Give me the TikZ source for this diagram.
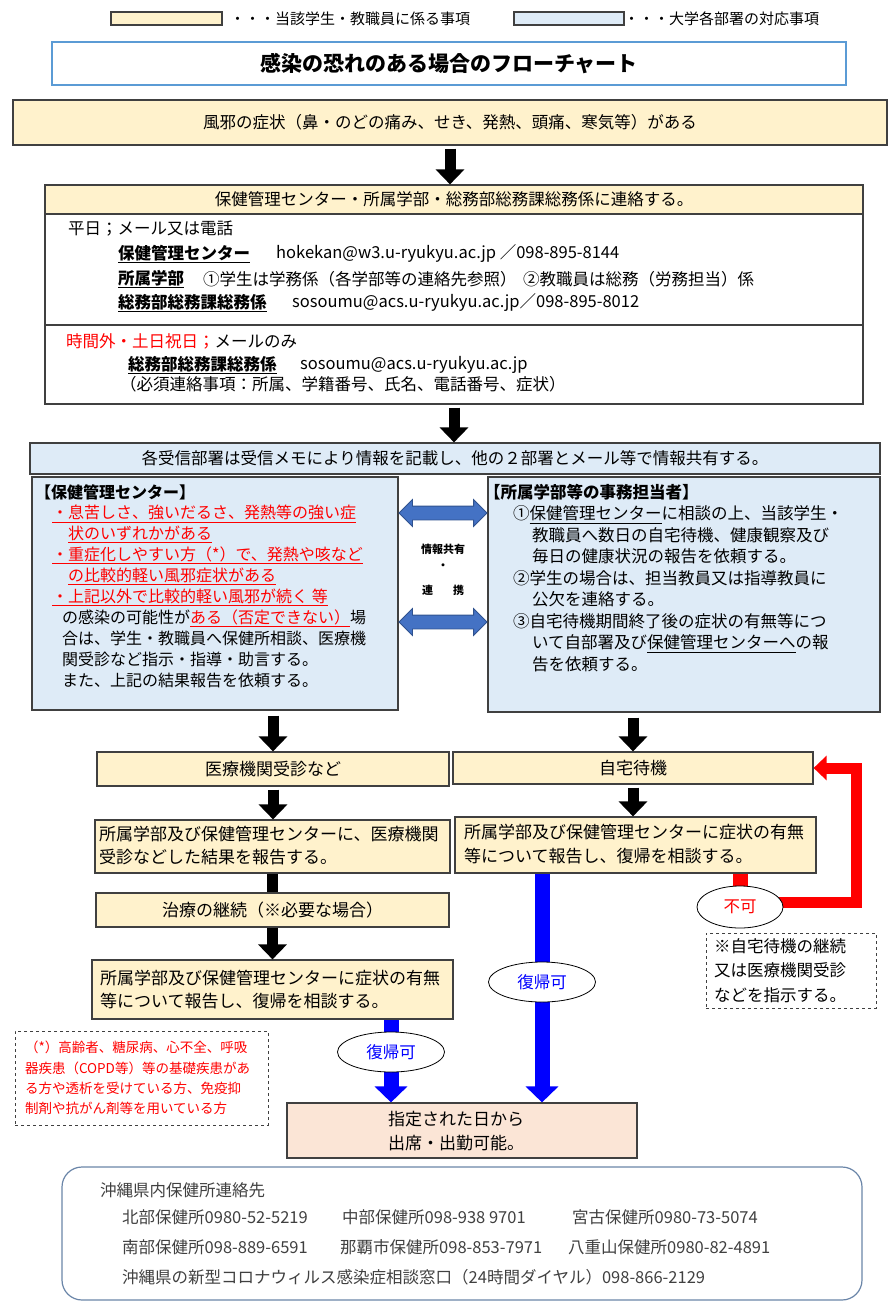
\documentclass[tikz,border=0pt]{standalone}
\usepackage{fontspec}
\setmainfont{Noto Sans CJK JP}
\usetikzlibrary{arrows.meta,shapes.geometric,shapes.arrows}
\pgfdeclarelayer{bg}
\pgfsetlayers{bg,main}

\definecolor{yfill}{HTML}{FFF2CC}
\definecolor{bfill}{HTML}{DEEBF7}
\definecolor{pfill}{HTML}{FBE5D6}
\definecolor{edge}{HTML}{404040}
\definecolor{titleblue}{HTML}{5B9BD5}
\definecolor{sharefill}{HTML}{4472C4}
\definecolor{shareedge}{HTML}{2F528F}
\definecolor{roundedge}{HTML}{6A85A8}
\definecolor{graytext}{HTML}{404040}

\newcommand{\fsz}[1]{\fontsize{#1}{#1}\selectfont}
\newcommand{\ulb}[1]{\underline{\textbf{#1}}}
\newcommand{\redul}[1]{\textcolor{red}{\underline{#1}}}

\begin{document}
\begin{tikzpicture}[x=1pt,y=-1pt,font=\fsz{16.5},
  ybox/.style={draw=edge, fill=yfill, line width=1.2pt, inner sep=0pt},
  bbox/.style={draw=edge, fill=bfill, line width=1.2pt, inner sep=0pt},
  txt/.style={inner sep=0pt, anchor=west},
  blkarrow/.style={line width=11pt, -{Triangle[width=28pt,length=15pt]}},
  bluarrow/.style={blue, line width=15pt, -{Triangle[width=32pt,length=16pt]}},
  redline/.style={red, line width=11pt},
  oval/.style={ellipse, draw=black, fill=white, line width=0.8pt, minimum width=107pt, minimum height=40pt, inner sep=0pt},
  dashnote/.style={draw=edge, dashed, line width=0.9pt, align=left},
  sharearrow/.style={double arrow, draw=shareedge, fill=sharefill, line width=0.8pt, minimum height=88pt, inner xsep=0pt, inner ysep=6.5pt, double arrow head extend=6.5pt, font=\fsz{1}}]
\useasboundingbox (0,0) rectangle (895,1306);

% legend
\node[ybox, minimum width=111pt, minimum height=13pt] (legendy) at (166.5,18.5) {};
\node[txt, font=\fsz{15}] (legendytext) at (230,19) {・・・当該学生・教職員に係る事項};
\node[bbox, minimum width=110pt, minimum height=13pt] (legendb) at (569,18.5) {};
\node[txt, font=\fsz{15}] (legendbtext) at (624,19) {・・・大学各部署の対応事項};

% title
\node[draw=titleblue, line width=1.2pt, minimum width=794pt, minimum height=43pt, font=\fsz{21}\bfseries] (title) at (449,63.5) {感染の恐れのある場合のフローチャート};

% symptoms
\node[ybox, minimum width=874pt, minimum height=45pt] (cold) at (450,122.5) {風邪の症状（鼻・のどの痛み、せき、発熱、頭痛、寒気等）がある};

% contact box
\node[draw=edge, fill=white, line width=1.2pt, minimum width=818pt, minimum height=219pt] (contact) at (454,294.5) {};
\node[ybox, minimum width=818pt, minimum height=29pt, anchor=north] (contacthead) at (contact.north) {保健管理センター・所属学部・総務部総務課総務係に連絡する。};
\draw[edge, line width=1.2pt] (contact.west |- 0,325) -- (contact.east |- 0,325);
\node[txt] (weekday) at (68,229) {平日；メール又は電話};
\node[txt] (hcname) at (118,254) {\ulb{保健管理センター}};
\node[txt] (hcmail) at (276,254) {hokekan@w3.u-ryukyu.ac.jp ／098-895-8144};
\node[txt] (facname) at (118,279) {\ulb{所属学部}};
\node[txt] (facstudent) at (203,279) {①学生は学務係（各学部等の連絡先参照）};
\node[txt] (facstaff) at (523,279) {②教職員は総務（労務担当）係};
\node[txt] (ganame) at (118,303) {\ulb{総務部総務課総務係}};
\node[txt] (gamail) at (292,303) {sosoumu@acs.u-ryukyu.ac.jp／098-895-8012};
\node[txt] (offhours) at (66,341) {\textcolor{red}{時間外・土日祝日；}メールのみ};
\node[txt] (ganame2) at (128,365) {\ulb{総務部総務課総務係}};
\node[txt] (gamail2) at (300,365) {sosoumu@acs.u-ryukyu.ac.jp};
\node[txt] (required) at (120,384) {（必須連絡事項：所属、学籍番号、氏名、電話番号、症状）};

% sharing
\node[bbox, minimum width=850pt, minimum height=31pt] (memo) at (455,458.5) {各受信部署は受信メモにより情報を記載し、他の２部署とメール等で情報共有する。};
\node[bbox, minimum width=366pt, minimum height=233pt] (hcenter) at (215,593.5) {};
\node[bbox, minimum width=392pt, minimum height=235pt] (faculty) at (684,594.5) {};
\node[inner sep=0pt, anchor=north west, align=left, font=\fontsize{16}{20.9}\selectfont] (hctext) at (35,484) {%
\textbf{【保健管理センター】}\\
\hspace*{17pt}\redul{・息苦しさ、強いだるさ、発熱等の強い症}\\
\hspace*{33pt}\redul{状のいずれかがある}\\
\hspace*{17pt}\redul{・重症化しやすい方（*）で、発熱や咳など}\\
\hspace*{33pt}\redul{の比較的軽い風邪症状がある}\\
\hspace*{17pt}\redul{・上記以外で比較的軽い風邪が続く\ 等}\\
\hspace*{27pt}の感染の可能性が\redul{ある（否定できない）}場\\
\hspace*{27pt}合は、学生・教職員へ保健所相談、医療機\\
\hspace*{27pt}関受診など指示・指導・助言する。\\
\hspace*{27pt}また、上記の結果報告を依頼する。};
\node[inner sep=0pt, anchor=north west, align=left, font=\fontsize{16.5}{21.5}\selectfont] (factext) at (484,484) {%
\textbf{【所属学部等の事務担当者】}\\
\hspace*{29pt}①\underline{保健管理センター}に相談の上、当該学生・\\
\hspace*{48pt}教職員へ数日の自宅待機、健康観察及び\\
\hspace*{48pt}毎日の健康状況の報告を依頼する。\\
\hspace*{29pt}②学生の場合は、担当教員又は指導教員に\\
\hspace*{48pt}公欠を連絡する。\\
\hspace*{29pt}③自宅待機期間終了後の症状の有無等につ\\
\hspace*{48pt}いて自部署及び\underline{保健管理センターへ}の報\\
\hspace*{48pt}告を依頼する。};
\node[sharearrow] (share1) at (443,513) {};
\node[sharearrow] (share2) at (443,622) {};
\node[font=\fsz{11}\bfseries] (sharetext) at (443,549) {情報共有};
\node[font=\fsz{11}\bfseries] (sharedot) at (443,567) {・};
\node[font=\fsz{11}\bfseries] (sharetext2) at (443,590) {連\hspace{20pt}携};

% lower flow
\node[ybox, minimum width=352pt, minimum height=34pt, font=\fsz{17}] (medical) at (273,769) {医療機関受診など};
\node[ybox, minimum width=360pt, minimum height=32pt, font=\fsz{17}] (home) at (633,768) {自宅待機};
\node[ybox, minimum width=355pt, minimum height=53pt] (report1) at (272.5,846.5) {};
\node[txt, align=left, font=\fontsize{17}{23}\selectfont] (report1text) at (99,846) {所属学部及び保健管理センターに、医療機関\\受診などした結果を報告する。};
\node[ybox, minimum width=361pt, minimum height=56pt] (report3) at (635.5,845) {};
\node[txt, align=left, font=\fontsize{17}{24}\selectfont] (report3text) at (464,844) {所属学部及び保健管理センターに症状の有無\\等について報告し、復帰を相談する。};
\node[ybox, minimum width=353pt, minimum height=34pt, font=\fsz{17}] (cont) at (272.5,910) {治療の継続（※必要な場合）};
\node[ybox, minimum width=361pt, minimum height=59pt] (report2) at (272.5,989.5) {};
\node[txt, align=left, font=\fontsize{17}{23}\selectfont] (report2text) at (100,989.5) {所属学部及び保健管理センターに症状の有無\\等について報告し、復帰を相談する。};
\node[draw=edge, fill=pfill, line width=1.2pt, minimum width=350pt, minimum height=55pt] (final) at (462,1130.5) {};
\node[txt, align=left, font=\fontsize{17}{24}\selectfont] (finaltext) at (388,1131) {指定された日から\\出席・出勤可能。};

\node[oval, text=blue] (okleft) at (391,1052) {復帰可};
\node[oval, text=blue] (okright) at (542,982) {復帰可};
\node[oval, text=red, minimum width=86pt, minimum height=42pt] (ng) at (740,907) {不可};
\coordinate (redturn) at (856,902);

\node[dashnote, minimum width=170pt, minimum height=75pt, text width=154pt, inner xsep=8pt, font=\fontsize{16.5}{24.5}\selectfont] (homenote) at (791,970.5) {※自宅待機の継続\\又は医療機関受診\\などを指示する。};
\node[dashnote, text=red, minimum width=253pt, minimum height=94pt, text width=233pt, inner xsep=10pt, font=\fontsize{13.5}{20.3}\selectfont] (risknote) at (141.5,1078) {（*）高齢者、糖尿病、心不全、呼吸\\器疾患（COPD等）等の基礎疾患があ\\る方や透析を受けている方、免疫抑\\制剤や抗がん剤等を用いている方};

% arrows
\draw[blkarrow, shorten <=3pt] (cold.south) -- (cold.south |- contact.north);
\draw[blkarrow, shorten <=3pt] (contact.south) -- (contact.south |- memo.north);
\draw[blkarrow, shorten <=5pt] (medical.north |- hcenter.south) -- (medical.north);
\draw[blkarrow, shorten <=5pt] (home.north |- faculty.south) -- (home.north);
\draw[blkarrow, shorten <=3pt] (medical.south) -- (medical.south |- report1.north);
\draw[blkarrow, shorten <=3pt] (home.south) -- (home.south |- report3.north);
\draw[line width=11pt] (report1.south) -- (report1.south |- cont.north);
\draw[blkarrow] (cont.south) -- (cont.south |- report2.north);
\begin{pgfonlayer}{bg}
\draw[bluarrow] (okleft |- report2.south) -- (okleft |- final.north);
\draw[bluarrow] (okright |- report3.south) -- (okright |- final.north);
\draw[redline, line width=15pt] (ng |- report3.south) -- (ng.center);
\draw[redline, -{Triangle[width=24pt,length=13pt]}] (ng.center |- redturn) -- (redturn) |- (home.east);
\end{pgfonlayer}

% phone numbers
\node[draw=roundedge, rounded corners=20pt, line width=1.2pt, minimum width=800pt, minimum height=133pt] (phonebox) at (462,1233.5) {};
\begin{scope}[text=graytext]
\node[txt] (phonehead) at (100,1190) {沖縄県内保健所連絡先};
\node[txt] (hokubu) at (122,1217) {北部保健所0980-52-5219};
\node[txt] (chubu) at (342,1217) {中部保健所098-938 9701};
\node[txt] (miyako) at (572,1217) {宮古保健所0980-73-5074};
\node[txt] (nanbu) at (122,1247) {南部保健所098-889-6591};
\node[txt] (naha) at (340,1247) {那覇市保健所098-853-7971};
\node[txt] (yaeyama) at (568,1247) {八重山保健所0980-82-4891};
\node[txt] (hotline) at (122,1277) {沖縄県の新型コロナウィルス感染症相談窓口（24時間ダイヤル）098-866-2129};
\end{scope}
\end{tikzpicture}
\end{document}
